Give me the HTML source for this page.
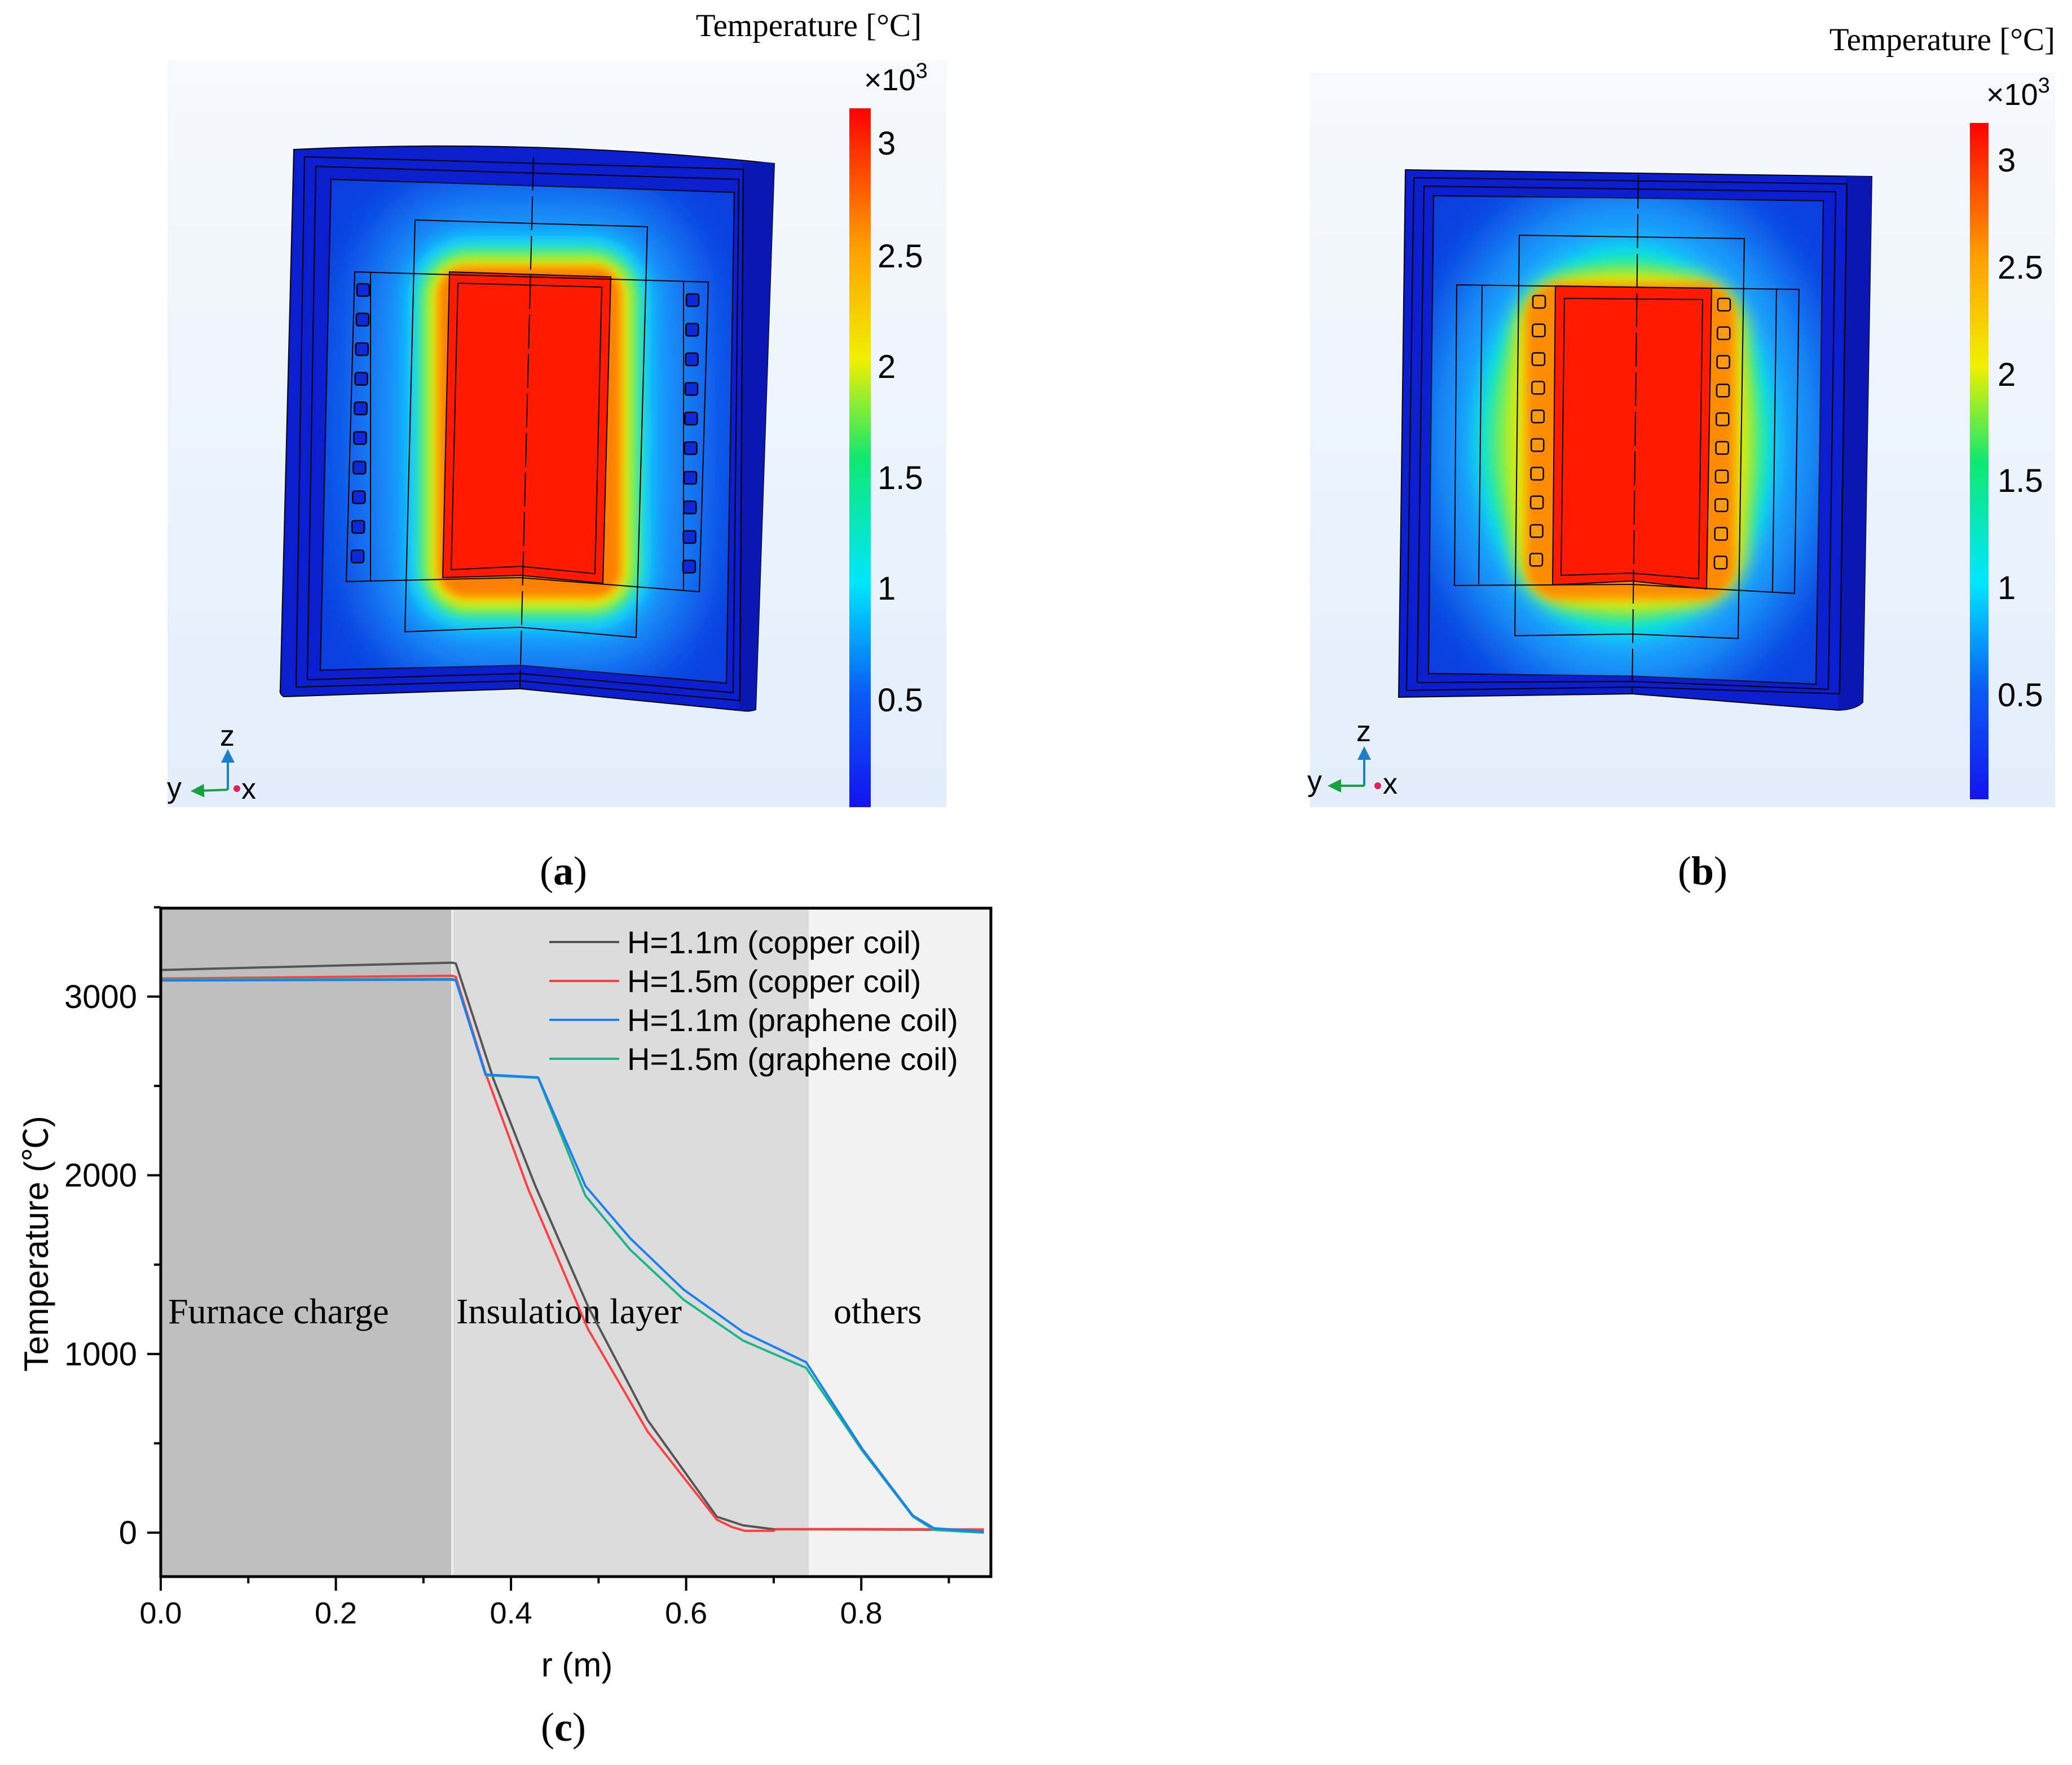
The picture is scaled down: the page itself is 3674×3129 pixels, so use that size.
<!DOCTYPE html>
<html><head><meta charset="utf-8">
<style>
html,body{margin:0;padding:0;background:#fff;}
body{width:3674px;height:3129px;position:relative;overflow:hidden;}
svg{position:absolute;left:0;top:0;}
.serif{font-family:"Liberation Serif",serif;}
.sans{font-family:"Liberation Sans","DejaVu Sans",sans-serif;}
</style></head>
<body>
<svg id="root" width="3674" height="3129" viewBox="0 0 3674 3129" xmlns="http://www.w3.org/2000/svg">
<defs>
  <linearGradient id="bgGrad" x1="0" y1="0" x2="0" y2="1">
    <stop offset="0" stop-color="#f6f9fd"/><stop offset="1" stop-color="#e2eefb"/>
  </linearGradient>
  <linearGradient id="cbar" x1="0" y1="1" x2="0" y2="0">
    <stop offset="0" stop-color="#1414f0"/>
    <stop offset="0.16" stop-color="#0a5af5"/>
    <stop offset="0.32" stop-color="#00e6ff"/>
    <stop offset="0.5" stop-color="#10e870"/>
    <stop offset="0.64" stop-color="#f0f000"/>
    <stop offset="0.8" stop-color="#ffa000"/>
    <stop offset="0.95" stop-color="#ff2a00"/>
    <stop offset="1" stop-color="#ff0000"/>
  </linearGradient>
  <radialGradient id="innerA" cx="0.5" cy="0.5" r="0.6">
    <stop offset="0" stop-color="#1a8cff"/><stop offset="1" stop-color="#0b3ee0"/>
  </radialGradient>
  <filter id="b60" x="-40%" y="-40%" width="180%" height="180%"><feGaussianBlur stdDeviation="60"/></filter>
  <filter id="b30" x="-40%" y="-40%" width="180%" height="180%"><feGaussianBlur stdDeviation="30"/></filter>
  <filter id="b16" x="-40%" y="-40%" width="180%" height="180%"><feGaussianBlur stdDeviation="16"/></filter>
  <filter id="b12" x="-40%" y="-40%" width="180%" height="180%"><feGaussianBlur stdDeviation="12"/></filter>
  <filter id="b8" x="-40%" y="-40%" width="180%" height="180%"><feGaussianBlur stdDeviation="8"/></filter>
  <clipPath id="clipA"><polygon points="587,318 1302,341 1288,1211 922,1179 568,1188"/></clipPath>
  <clipPath id="clipB"><polygon points="2542,347 3233,356 3220,1213 2894,1198 2533,1194"/></clipPath>
  <marker id="arrB" markerWidth="6" markerHeight="6" refX="3" refY="3" orient="auto"><path d="M0,0 L6,3 L0,6z" fill="#1e7fc8"/></marker>
  <marker id="arrG" markerWidth="6" markerHeight="6" refX="3" refY="3" orient="auto"><path d="M0,0 L6,3 L0,6z" fill="#1aa040"/></marker>
</defs>

<!-- ================= PANEL A ================= -->
<g>
  <rect x="297" y="106" width="1381" height="1325" fill="url(#bgGrad)"/>
  <text x="1634" y="64" class="serif" font-size="57" text-anchor="end">Temperature [°C]</text>
  <g>
    <path d="M521,265 Q950,245 1373,290 L1340,1258 Q1330,1262 1316,1260 L922,1221 L503,1235 Q495,1230 497,1222 Z" fill="#0c1fcf" stroke="#000" stroke-width="2"/>
    <path d="M1316,290 Q1350,285 1373,290 L1340,1258 L1310,1260 Z" fill="#0a17b0"/>
    <polygon points="540,278 1318,300 1312,1242 922,1207 525,1218" fill="none" stroke="#000" stroke-width="2"/>
    <polygon points="560,295 1310,318 1300,1228 922,1194 545,1205" fill="none" stroke="#000" stroke-width="2"/>
    <polygon points="587,318 1302,341 1288,1211 922,1179 568,1188" fill="url(#innerA)" stroke="#000" stroke-width="2"/>
    <g clip-path="url(#clipA)">
      <rect x="670" y="360" width="540" height="820" rx="150" fill="#1aa8ff" filter="url(#b60)"/>
      <rect x="722" y="418" width="432" height="700" rx="110" fill="#10d8ff" filter="url(#b16)"/>
      <rect x="744" y="440" width="390" height="654" rx="90" fill="#50ee70" filter="url(#b12)"/>
      <rect x="760" y="458" width="358" height="620" rx="70" fill="#f4ec00" filter="url(#b12)"/>
      <rect x="776" y="472" width="326" height="588" rx="50" fill="#ff8000" filter="url(#b8)"/>
    </g>
    <polygon points="797,482 1083,491 1069,1034 923,1020 785,1024" fill="#ff1a00" stroke="#000" stroke-width="2"/>
    <polygon points="812,502 1067,509 1055,1017 923,1004 800,1010" fill="none" stroke="#000" stroke-width="2"/>
    <polygon points="736,390 1148,402 1128,1130 922,1112 718,1120" fill="none" stroke="#000" stroke-width="2"/>
    <polygon points="629,482 1256,500 1240,1049 922,1024 614,1031" fill="none" stroke="#000" stroke-width="2"/>
    <line x1="657" y1="482" x2="657" y2="1030" stroke="#000" stroke-width="2"/>
    <line x1="1212" y1="498" x2="1212" y2="1045" stroke="#000" stroke-width="2"/>
    <line x1="946" y1="278" x2="922" y2="1220" stroke="#000" stroke-width="2" stroke-dasharray="60,10"/>
    <g id="coilsA"></g>
  </g>
  <rect x="1506" y="192" width="38" height="1239" fill="url(#cbar)"/>
  <text x="1532" y="160" class="sans" font-size="54">×10<tspan dy="-22" font-size="38">3</tspan></text>
  <g class="sans" font-size="58">
    <text x="1556" y="274">3</text><text x="1556" y="474">2.5</text><text x="1556" y="670">2</text>
    <text x="1556" y="867">1.5</text><text x="1556" y="1063">1</text><text x="1556" y="1261">0.5</text>
  </g>
  <g>
    <line x1="404" y1="1400" x2="404" y2="1340" stroke="#1e7fc8" stroke-width="4" marker-end="url(#arrB)"/>
    <line x1="404" y1="1400" x2="350" y2="1402" stroke="#1aa040" stroke-width="4" marker-end="url(#arrG)"/>
    <circle cx="420" cy="1398" r="6" fill="#e0205a"/>
    <text x="390" y="1322" class="sans" font-size="52">z</text>
    <text x="296" y="1414" class="sans" font-size="52">y</text>
    <text x="428" y="1416" class="sans" font-size="52">x</text>
  </g>
  <text x="999" y="1568" class="serif" font-size="72" text-anchor="middle">(<tspan font-weight="bold">a</tspan>)</text>
</g>

<!-- ================= PANEL B ================= -->
<g>
  <rect x="2323" y="129" width="1321" height="1302" fill="url(#bgGrad)"/>
  <text x="3644" y="89" class="serif" font-size="57" text-anchor="end">Temperature [°C]</text>
  <g>
    <path d="M2492,301 L3319,313 L3303,1245 Q3290,1258 3260,1259 L2894,1230 L2480,1236 Z" fill="#0c1fcf" stroke="#000" stroke-width="2"/>
    <path d="M3273,312 L3319,313 L3303,1245 Q3290,1258 3260,1259 Z" fill="#0a17b0"/>
    <polygon points="2507,315 3275,326 3262,1230 2894,1218 2494,1224" fill="none" stroke="#000" stroke-width="2"/>
    <polygon points="2525,330 3255,340 3242,1222 2894,1208 2513,1210" fill="none" stroke="#000" stroke-width="2"/>
    <polygon points="2542,347 3233,356 3220,1213 2894,1198 2533,1194" fill="url(#innerA)" stroke="#000" stroke-width="2"/>
    <g clip-path="url(#clipB)">
      <ellipse cx="2885" cy="780" rx="340" ry="440" fill="#1ab0ff" filter="url(#b60)"/>
      <ellipse cx="2882" cy="782" rx="268" ry="350" fill="#00e0f0" filter="url(#b16)"/>
      <ellipse cx="2882" cy="782" rx="245" ry="322" fill="#40ec80" filter="url(#b16)"/>
      <ellipse cx="2882" cy="782" rx="220" ry="296" fill="#a8f030" filter="url(#b16)"/>
      <rect x="2685" y="488" width="412" height="590" rx="110" fill="#f0e400" filter="url(#b16)"/>
      <rect x="2705" y="502" width="372" height="560" rx="60" fill="#ff8c00" filter="url(#b8)"/>
    </g>
    <polygon points="2758,507 3035,511 3026,1044 2894,1030 2753,1037" fill="#ff1a00" stroke="#000" stroke-width="2"/>
    <polygon points="2774,529 3019,531 3012,1026 2894,1016 2768,1020" fill="none" stroke="#000" stroke-width="2"/>
    <polygon points="2694,417 3093,423 3082,1132 2894,1124 2686,1127" fill="none" stroke="#000" stroke-width="2"/>
    <polygon points="2583,505 3190,513 3182,1052 2894,1036 2579,1038" fill="none" stroke="#000" stroke-width="2"/>
    <line x1="2628" y1="506" x2="2622" y2="1036" stroke="#000" stroke-width="2"/>
    <line x1="3150" y1="512" x2="3143" y2="1050" stroke="#000" stroke-width="2"/>
    <line x1="2905" y1="310" x2="2894" y2="1231" stroke="#000" stroke-width="2" stroke-dasharray="60,10"/>
    <g id="coilsB"></g>
  </g>
  <rect x="3493" y="218" width="33" height="1199" fill="url(#cbar)"/>
  <text x="3522" y="186" class="sans" font-size="54">×10<tspan dy="-22" font-size="38">3</tspan></text>
  <g class="sans" font-size="58">
    <text x="3542" y="304">3</text><text x="3542" y="494">2.5</text><text x="3542" y="684">2</text>
    <text x="3542" y="872">1.5</text><text x="3542" y="1062">1</text><text x="3542" y="1252">0.5</text>
  </g>
  <g>
    <line x1="2419" y1="1393" x2="2419" y2="1335" stroke="#1e7fc8" stroke-width="4" marker-end="url(#arrB)"/>
    <line x1="2419" y1="1393" x2="2366" y2="1393" stroke="#1aa040" stroke-width="4" marker-end="url(#arrG)"/>
    <circle cx="2443" cy="1393" r="6" fill="#e0205a"/>
    <text x="2405" y="1314" class="sans" font-size="52">z</text>
    <text x="2318" y="1402" class="sans" font-size="52">y</text>
    <text x="2452" y="1407" class="sans" font-size="52">x</text>
  </g>
  <text x="3019" y="1568" class="serif" font-size="72" text-anchor="middle">(<tspan font-weight="bold">b</tspan>)</text>
</g>

<!-- ================= PANEL C ================= -->
<g id="chart"></g>
<text x="999" y="3086" class="serif" font-size="72" text-anchor="middle">(<tspan font-weight="bold">c</tspan>)</text>
</svg>

<script>
// ---- chart data ----
const regionNames = ["Furnace charge", "Insulation layer", "others"];
const regionBounds = [0, 0.333, 0.74, 0.95];
const xTicks = [0.0, 0.2, 0.4, 0.6, 0.8];
const xTickLabels = ["0.0", "0.2", "0.4", "0.6", "0.8"];
const yTicks = [0, 1000, 2000, 3000];
const yTickLabels = ["0", "1000", "2000", "3000"];
const seriesNames = ["H=1.1m (copper coil)", "H=1.5m (copper coil)", "H=1.1m (praphene coil)", "H=1.5m (graphene coil)"];
const r11cu = [0, 0.333, 0.337, 0.38, 0.427, 0.488, 0.556, 0.635, 0.665, 0.70, 0.80, 0.94];
const t11cu = [3149, 3190, 3185, 2538, 1950, 1266, 630, 89, 41, 19, 18, 15];
const r15cu = [0, 0.333, 0.337, 0.371, 0.42, 0.488, 0.556, 0.635, 0.652, 0.667, 0.70, 0.703, 0.80, 0.94];
const t15cu = [3101, 3117, 3110, 2570, 1918, 1139, 566, 73, 32, 10, 10, 20, 20, 18];
const r11gr = [0, 0.333, 0.337, 0.371, 0.431, 0.485, 0.536, 0.597, 0.665, 0.737, 0.801, 0.859, 0.883, 0.94];
const t11gr = [3090, 3095, 3090, 2564, 2548, 1940, 1648, 1361, 1123, 954, 470, 95, 25, 5];
const r15gr = [0, 0.333, 0.337, 0.371, 0.431, 0.485, 0.536, 0.597, 0.665, 0.737, 0.801, 0.859, 0.883, 0.94];
const t15gr = [3095, 3099, 3092, 2560, 2545, 1886, 1584, 1304, 1075, 922, 460, 90, 15, 0];
const seriesColors = ["#555555", "#ff4040", "#1a7ff0", "#1bb58a"];

const NS = "http://www.w3.org/2000/svg";
const L = 285, R = 1757, T = 1610, B = 2795;
const xMin = 0, xMax = 0.948, yMin = -246, yMax = 3495;
function sx(v){ return L + (v - xMin) / (xMax - xMin) * (R - L); }
function sy(v){ return B - (v - yMin) / (yMax - yMin) * (B - T); }
function mk(tag, attrs, parent){ const e = document.createElementNS(NS, tag); for (const k in attrs) e.setAttribute(k, attrs[k]); parent.appendChild(e); return e; }
const chart = document.getElementById("chart");

const regionFills = ["#bfbfbf", "#dcdcdc", "#f2f2f2"];
for (let i = 0; i < regionNames.length; i++) {
  const x0 = sx(regionBounds[i]), x1 = Math.min(sx(regionBounds[i+1]), R);
  const rc = mk("rect", {x: x0, y: T, width: x1 - x0, height: B - T, fill: regionFills[i]}, chart);
  
  
}
mk("line", {x1: sx(regionBounds[1]), y1: T, x2: sx(regionBounds[1]), y2: B, stroke: "#ececec", "stroke-width": 4}, chart);
const regionLabelX = [298, 809, 1478];
for (let i = 0; i < regionNames.length; i++) {
  const t = mk("text", {x: regionLabelX[i], y: 2346, "font-size": 64, "font-family": "Liberation Serif, serif"}, chart);
  t.textContent = regionNames[i];
  
  
}

const seriesR = [r11cu, r15cu, r11gr, r15gr];
const seriesT = [t11cu, t15cu, t11gr, t15gr];
const order = [0, 1, 3, 2];
for (const i of order) {
  const pts = seriesR[i].map((r, j) => sx(r).toFixed(1) + "," + sy(seriesT[i][j]).toFixed(1)).join(" ");
  const pl = mk("polyline", {points: pts, fill: "none", stroke: seriesColors[i], "stroke-width": 4, "stroke-linejoin": "round"}, chart);
  
  
}

const fr = mk("rect", {x: L, y: T, width: R - L, height: B - T, fill: "none", stroke: "#000", "stroke-width": 5}, chart);



for (let v = 0; v <= 0.9001; v += 0.1) {
  const major = Math.round(v * 10) % 2 === 0;
  mk("line", {x1: sx(v), y1: B, x2: sx(v), y2: B + (major ? 25 : 12), stroke: "#000", "stroke-width": 4}, chart);
}
for (let i = 0; i < xTicks.length; i++) {
  const t = mk("text", {x: sx(xTicks[i]), y: 2878, "font-size": 54, "text-anchor": "middle", "font-family": "Liberation Sans, sans-serif"}, chart);
  t.textContent = xTickLabels[i];
  
  
}
for (let v = 0; v <= 3500; v += 500) {
  const major = v % 1000 === 0;
  mk("line", {x1: L, y1: sy(v), x2: L - (major ? 24 : 12), y2: sy(v), stroke: "#000", "stroke-width": 4}, chart);
}
for (let i = 0; i < yTicks.length; i++) {
  const t = mk("text", {x: 243, y: sy(yTicks[i]) + 20, "font-size": 58, "text-anchor": "end", "font-family": "Liberation Sans, sans-serif"}, chart);
  t.textContent = yTickLabels[i];
  
  
}
const xt = mk("text", {x: 1023, y: 2972, "font-size": 60, "text-anchor": "middle", "font-family": "Liberation Sans, sans-serif"}, chart);
xt.textContent = "r (m)";


const yt = mk("text", {x: 0, y: 0, "font-size": 60, "text-anchor": "middle", transform: "translate(85,2205) rotate(-90)", "font-family": "Liberation Sans, Noto Sans CJK SC, sans-serif"}, chart);
yt.textContent = "Temperature (℃)";



const legY = [1670, 1739, 1808, 1877];
for (let i = 0; i < seriesNames.length; i++) {
  const g = mk("g", {}, chart);
  
  
  mk("line", {x1: 974, y1: legY[i], x2: 1098, y2: legY[i], stroke: seriesColors[i], "stroke-width": 4}, g);
  const t = mk("text", {x: 1112, y: legY[i] + 20, "font-size": 56, "font-family": "Liberation Sans, sans-serif"}, g);
  t.textContent = seriesNames[i];
}

function coils(id, x0, x1, y0, step, fill) {
  const g = document.getElementById(id);
  for (let k = 0; k < 10; k++) {
    const f = k / 9;
    const cx = x0 + (x1 - x0) * f, cy = y0 + step * k;
    const c = mk("rect", {x: cx - 11, y: cy - 11, width: 22, height: 22, rx: 4, fill: fill, stroke: "#000", "stroke-width": 2.5}, g);
    
    
  }
}
coils("coilsA", 644, 634, 514, 52.5, "#0c2ad8");
coils("coilsA", 1228, 1222, 532, 52.5, "#0c2ad8");
coils("coilsB", 2729, 2724, 535, 50.8, "#ff9a10");
coils("coilsB", 3057, 3051, 540, 50.8, "#ff9a10");
</script>
</body></html>
